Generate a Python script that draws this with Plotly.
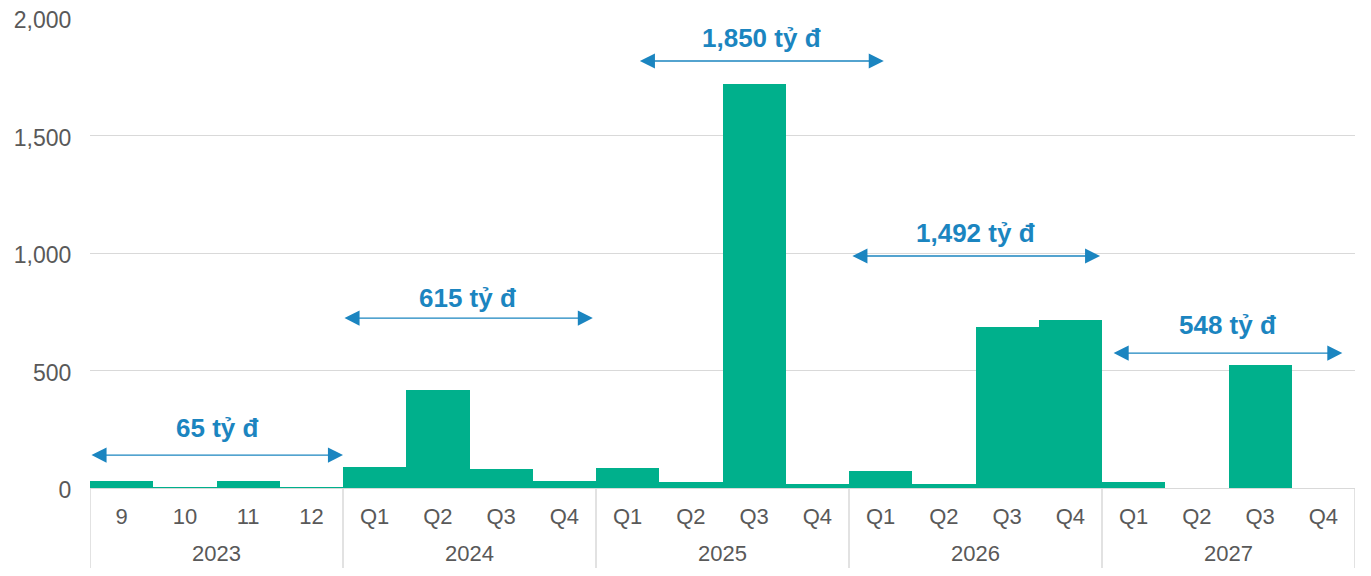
import plotly.graph_objects as go

years = ["2023"] * 4 + ["2024"] * 4 + ["2025"] * 4 + ["2026"] * 4 + ["2027"] * 4
periods = ["9", "10", "11", "12",
           "Q1", "Q2", "Q3", "Q4",
           "Q1", "Q2", "Q3", "Q4",
           "Q1", "Q2", "Q3", "Q4",
           "Q1", "Q2", "Q3", "Q4"]
values = [30, 3, 28, 4,
          90, 415, 82, 28,
          86, 27, 1718, 19,
          73, 19, 685, 715,
          24, 0, 524, 0]

# Period totals shown as double-headed arrows
total_labels = ["65 tỷ đ", "615 tỷ đ", "1,850 tỷ đ", "1,492 tỷ đ", "548 tỷ đ"]
arrow_start = [-0.5, 3.5, 8.17, 11.53, 15.66]
arrow_end = [3.5, 7.45, 12.05, 15.47, 19.3]
arrow_y = [140, 723, 1817, 987, 574]
label_y = [255, 808, 1915, 1085, 694]

BAR = "#00B08C"
BLUE = "#1B85C0"
GREY = "#595959"
LINE = "#D9D9D9"
FONT = "Arial, Liberation Sans, sans-serif"

idx = list(range(len(values)))

fig = go.Figure()
fig.add_trace(go.Bar(
    x=idx, y=values, width=1.0,
    marker=dict(color=BAR, line=dict(width=0)),
    customdata=[[y, p] for y, p in zip(years, periods)],
    hovertemplate="%{customdata[0]} %{customdata[1]}: %{y}<extra></extra>",
))

# group structure (years) -> dividers and year labels
groups = []
for i, yv in enumerate(years):
    if not groups or groups[-1][0] != yv:
        groups.append([yv, i, i])
    else:
        groups[-1][2] = i

shapes = []
annotations = []
edges = [g[1] - 0.5 for g in groups] + [groups[-1][2] + 0.5]
for e in edges:
    shapes.append(dict(type="line", xref="x", yref="paper", x0=e, x1=e, y0=0, y1=-0.2,
                       line=dict(color=LINE, width=1.5)))
for yv, a, b in groups:
    annotations.append(dict(x=(a + b) / 2, y=-0.139, xref="x", yref="paper",
                            text=yv, showarrow=False, yanchor="middle",
                            font=dict(family=FONT, size=22, color=GREY)))

for lab, xs, xe, ya, yl in zip(total_labels, arrow_start, arrow_end, arrow_y, label_y):
    annotations.append(dict(
        x=xe, y=ya, ax=xs, ay=ya, xref="x", yref="y", axref="x", ayref="y",
        text="", showarrow=True, arrowhead=2, arrowside="end+start",
        arrowsize=2.15, arrowwidth=1.4, arrowcolor=BLUE,
    ))
    annotations.append(dict(
        x=(xs + xe) / 2, y=yl, xref="x", yref="y", text="<b>%s</b>" % lab,
        showarrow=False, font=dict(family=FONT, size=26, color=BLUE),
    ))

fig.update_layout(
    width=1355, height=560,
    margin=dict(l=82, r=8, t=10, b=80),
    plot_bgcolor="white", paper_bgcolor="white",
    bargap=0, showlegend=False,
    font=dict(family=FONT, size=22, color=GREY),
    xaxis=dict(range=[-0.5, len(values) - 0.5], tickvals=idx, ticktext=periods,
               showline=True, linecolor=LINE, linewidth=1, zeroline=False,
               tickfont=dict(family=FONT, size=22, color=GREY),
               ticks="", ticklabelstandoff=9, showgrid=False, automargin=False),
    yaxis=dict(range=[0, 2000], tickvals=[0, 500, 1000, 1500, 2000],
               tickformat=",", showgrid=True, gridcolor=LINE, gridwidth=1,
               zeroline=False, ticks="outside", ticklen=13, tickcolor="rgba(0,0,0,0)",
               showline=False, ticklabeloverflow="allow", ticklabelshift=2,
               tickfont=dict(family=FONT, size=23, color=GREY), automargin=False),
    shapes=shapes,
    annotations=annotations,
)

fig.write_html("out.html")
